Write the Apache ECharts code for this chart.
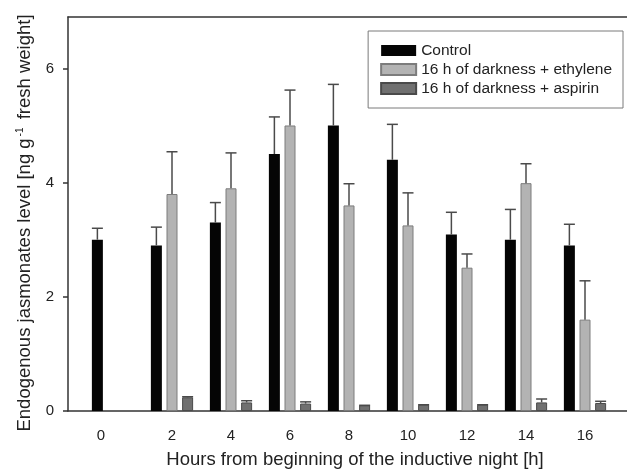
<!DOCTYPE html>
<html>
<head>
<meta charset="utf-8">
<script src="https://cdn.jsdelivr.net/npm/echarts@6/dist/echarts.min.js"></script>
<style>html,body{margin:0;padding:0;background:#fff}#c{width:627px;height:470px}</style>
</head>
<body>
<div id="c"></div>
<script>
const categories = ['0','2','4','6','8','10','12','14','16'];
const seriesNames = ['Control','16 h of darkness + ethylene','16 h of darkness + aspirin'];
const control = [3.0, 2.9, 3.3, 4.5, 5.0, 4.4, 3.09, 3.0, 2.9];
const controlErr = [0.2, 0.32, 0.35, 0.65, 0.72, 0.62, 0.39, 0.53, 0.37];
const ethylene = [null, 3.8, 3.9, 5.0, 3.6, 3.25, 2.51, 3.99, 1.6];
const ethyleneErr = [null, 0.74, 0.62, 0.62, 0.38, 0.57, 0.24, 0.34, 0.68];
const aspirin = [null, 0.24, 0.15, 0.13, 0.1, 0.11, 0.11, 0.15, 0.14];
const aspirinErr = [null, 0.01, 0.03, 0.03, 0.0, 0.0, 0.0, 0.06, 0.03];
const yTicks = [0, 2, 4, 6];

const BAR_W = 11, BAR_GAP = 0.42;
const fills = ['#050505', '#b3b3b3', '#707070'];
const borders = ['#000000', '#7c7c7c', '#4a4a4a'];
const means = [control, ethylene, aspirin];
const errs = [controlErr, ethyleneErr, aspirinErr];
const FONT = 'Liberation Sans, Arial, sans-serif';

const chart = echarts.init(document.getElementById('c'));

function errSeries(k) {
  const data = [];
  means[k].forEach((m, i) => { if (m != null && errs[k][i] != null) data.push([i, m, errs[k][i]]); });
  const off = (k - 1) * BAR_W * (1 + BAR_GAP);
  return {
    type: 'custom', xAxisIndex: 2, yAxisIndex: 1, z: 5, silent: true,
    data: data,
    renderItem: function (params, api) {
      const i = api.value(0), m = api.value(1), e = api.value(2);
      const p0 = api.coord([i, m]);
      const p1 = api.coord([i, m + e]);
      const x = p0[0] + off;
      const half = 5.5;
      const st = { stroke: '#4a4a4a', lineWidth: 1.5 };
      return {
        type: 'group',
        children: [
          { type: 'line', shape: { x1: x, y1: p0[1], x2: x, y2: p1[1] }, style: st },
          { type: 'line', shape: { x1: x - half, y1: p1[1], x2: x + half, y2: p1[1] }, style: st }
        ]
      };
    }
  };
}

const barSeries = means.map((d, k) => ({
  name: seriesNames[k], type: 'bar', xAxisIndex: 2, yAxisIndex: 1,
  data: d, barWidth: BAR_W, barGap: (BAR_GAP * 100) + '%',
  itemStyle: { color: fills[k], borderColor: borders[k], borderWidth: k === 0 ? 0 : 1 },
  z: 3
}));

const option = {
  animation: false,
  textStyle: { fontFamily: FONT },
  grid: [
    { left: 68, right: 0, top: 17, bottom: 59, outerBoundsMode: 'none', containLabel: false },
    { left: 83.5, right: 12.5, top: 17, bottom: 59, outerBoundsMode: 'none', containLabel: false }
  ],
  legend: {
    orient: 'vertical', right: 4, top: 31,
    data: seriesNames,
    icon: 'rect', itemWidth: 35, itemHeight: 11, itemGap: 2, itemTextGap: 9,
    padding: [11, 11, 11, 12],
    borderColor: '#7a7a7a', borderWidth: 1, backgroundColor: '#fff',
    textStyle: { fontSize: 15.5, lineHeight: 17, color: '#222', fontFamily: FONT }
  },
  xAxis: [
    { type: 'value', gridIndex: 0, min: 0, max: 1, position: 'bottom',
      axisLine: { show: true, lineStyle: { color: '#333', width: 1.5 } },
      axisTick: { show: false }, axisLabel: { show: false }, splitLine: { show: false } },
    { type: 'value', gridIndex: 0, min: 0, max: 1, position: 'top',
      axisLine: { show: true, lineStyle: { color: '#333', width: 1.5 } },
      axisTick: { show: false }, axisLabel: { show: false }, splitLine: { show: false } },
    { type: 'category', gridIndex: 1, data: categories.map((c, i) => i === 0 ? { value: c, textStyle: { padding: [0, 24, 0, 0] } } : c),
      axisLine: { show: false }, axisTick: { show: false },
      axisLabel: { fontSize: 15, color: '#222', margin: 17 },
      name: 'Hours from beginning of the inductive night [h]', nameLocation: 'middle', nameGap: 39,
      nameTextStyle: { fontSize: 18.5, color: '#222', padding: [0, 0, 0, 12] } }
  ],
  yAxis: [
    { type: 'value', gridIndex: 0, min: 0, max: 6.9, interval: 2,
      axisLine: { show: true, lineStyle: { color: '#333', width: 1.5 } },
      axisTick: { show: true, length: 5, lineStyle: { color: '#333', width: 1.5 } },
      axisLabel: { fontSize: 15, color: '#222', margin: 14, showMaxLabel: false,
        formatter: v => yTicks.indexOf(v) >= 0 ? String(v) : '' },
      splitLine: { show: false },
      name: 'Endogenous jasmonates level [ng g{sup|-1} fresh weight]', nameLocation: 'middle', nameGap: 32,
      nameTextStyle: { fontSize: 18.5, color: '#222', lineHeight: 20, padding: [0, 18, 0, 0],
        rich: { sup: { fontSize: 10, verticalAlign: 'top', lineHeight: 20, color: '#222', padding: [0, 3, 7, 2] } } } },
    { type: 'value', gridIndex: 1, min: 0, max: 6.9, show: false }
  ],
  series: barSeries.concat([errSeries(0), errSeries(1), errSeries(2)])
};
chart.setOption(option);
</script>
</body>
</html>
